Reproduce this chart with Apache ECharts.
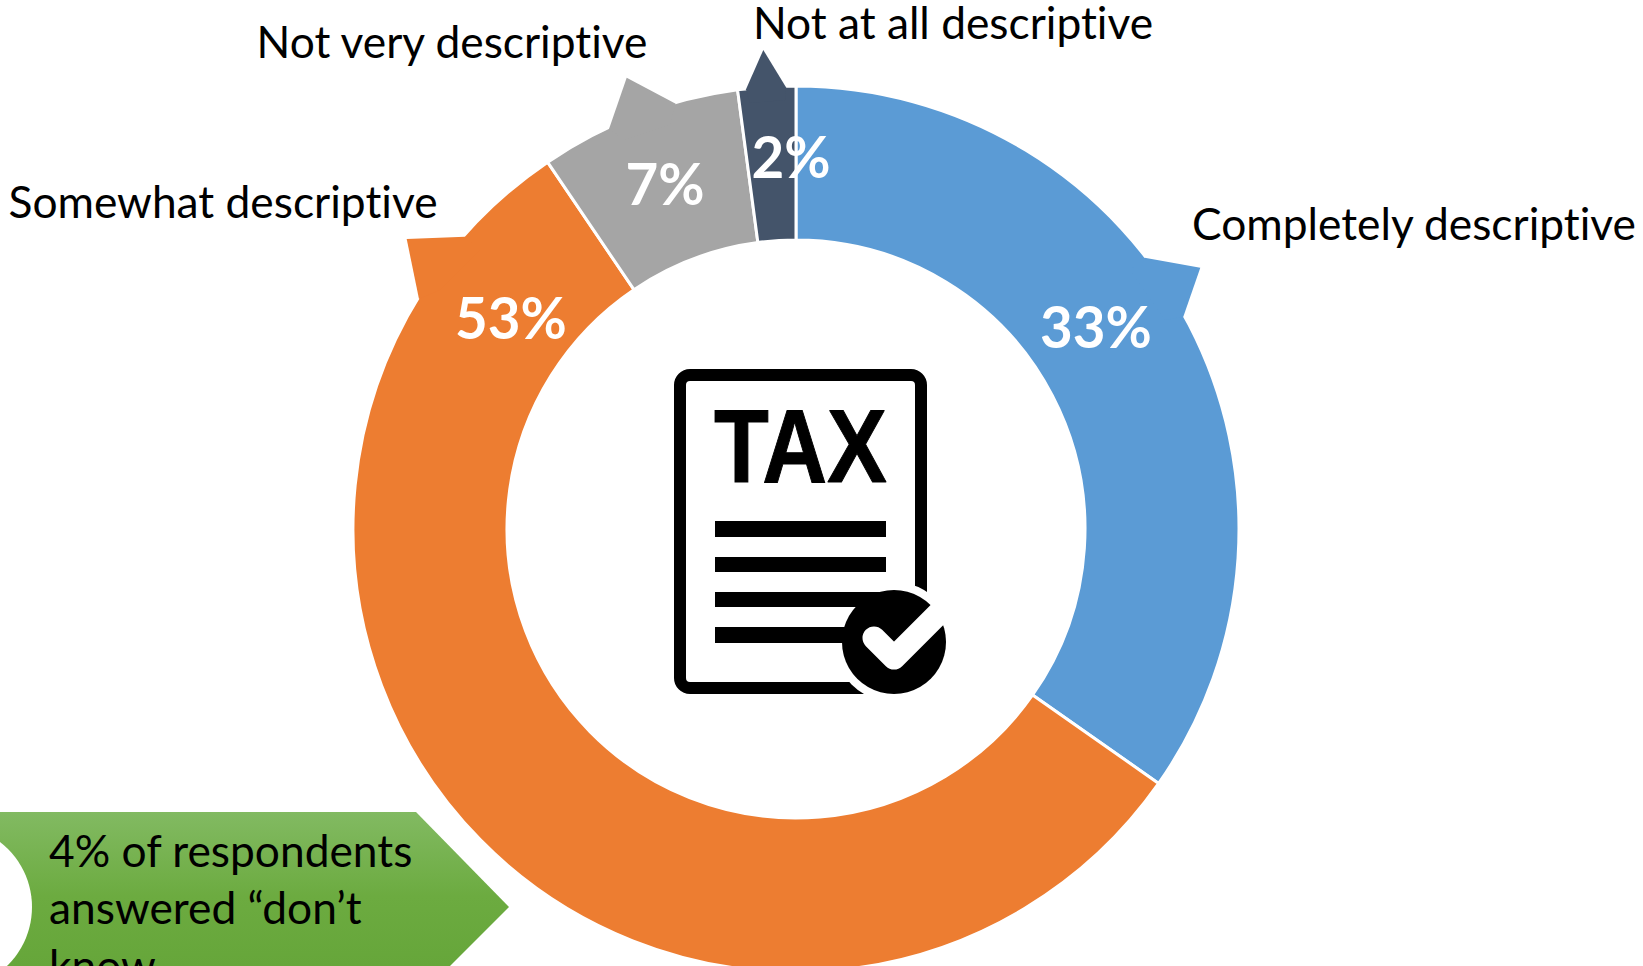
<!DOCTYPE html>
<html><head><meta charset="utf-8">
<style>html,body{margin:0;padding:0;background:#fff;overflow:hidden}#c{width:1643px;height:966px}
svg text{font-variant-ligatures:none !important}</style>
<script src="https://cdn.jsdelivr.net/npm/echarts@6/dist/echarts.min.js"></script>
</head><body><div id="c"></div>
<script>
const categories = ['Completely descriptive','Somewhat descriptive','Not very descriptive','Not at all descriptive'];
const values = [33,53,7,2];
const colors = ['#5B9BD5','#ED7D31','#A5A5A5','#44546A'];
const percentPos = [[1096,326],[511,317],[665,183],[791,156]];
const namePos = [[1414,222],[223,200],[452,40],[953,21]];
const nubs = [
  [[1144.7,257.7],[1200.3,267.7],[1183.3,316.7],[1165,320],[1130,270]],
  [[465,236.7],[406.7,239],[419,299],[440,290],[480,250]],
  [[609,129],[626.7,77.7],[675.7,103.7],[670,125],[625,140]],
  [[746,89.3],[763.3,50],[786,87.3],[785,100],[750,103]]
];
const noteLines = ['4% of respondents','answered “don’t','know'];
const FONT = 'Lato';
const chart = echarts.init(document.getElementById('c'),null,{renderer:'svg'});
const black = '#000';
const rect = (x,y,w,h,z) => ({type:'rect',z:z||1,shape:{x,y,width:w,height:h},style:{fill:black}});
chart.setOption({
  animation:false,
  backgroundColor:'#fff',
  graphic:{elements:[
    ...nubs.map((p,i)=>({type:'polygon',z:3,shape:{points:p},style:{fill:colors[i]}})),
    // don't-know note
    {type:'polygon',z:0,shape:{points:[[0,812],[416,812],[509,907],[450,966],[0,966]]},
      style:{fill:new echarts.graphic.LinearGradient(0,0,0,1,[{offset:0,color:'#82BA62'},{offset:.55,color:'#6CAB40'},{offset:1,color:'#66A63A'}])}},
    {type:'circle',z:1,shape:{cx:-50,cy:907,r:82},style:{fill:'#fff'}},
    ...noteLines.map((t,i)=>({type:'text',z:2,x:49,y:849+i*57.5,style:{text:t,fill:'#000',font:'44.3px '+FONT,textAlign:'left',textVerticalAlign:'middle'}})),
    // tax document icon
    {type:'rect',z:1,shape:{x:680,y:375,width:241,height:313,r:10},style:{fill:'#fff',stroke:black,lineWidth:12}},
    {type:'circle',z:1,shape:{cx:894,cy:642,r:60},style:{fill:'#fff'}},
    {type:'text',z:2,x:800.5,y:446,scaleX:.872,style:{text:'TAX',fill:black,stroke:black,lineWidth:1,font:'bold 103px "Liberation Sans"',textAlign:'center',textVerticalAlign:'middle'}},
    rect(715,521,171,16,2),rect(715,557,171,15,2),rect(715,592,171,15,2),rect(715,627,171,16,2),
    {type:'circle',z:3,shape:{cx:894,cy:642,r:52},style:{fill:black}},
    {type:'polyline',z:4,shape:{points:[[874,638],[894,658],[946,606]]},style:{stroke:'#fff',fill:null,lineWidth:23,lineCap:'round',lineJoin:'round'}}
  ]},
  series:[
    {type:'pie',center:[796,529],radius:[289,443],startAngle:90,clockwise:true,silent:true,avoidLabelOverlap:false,
     data:categories.map((n,i)=>({name:n,value:values[i],itemStyle:{color:colors[i],borderColor:'#fff',borderWidth:3}})),
     label:{show:true,position:'inside',formatter:'{c}%',color:'#fff',fontFamily:FONT,fontWeight:'bold',fontSize:56.5},
     labelLine:{show:false},
     labelLayout:p=>({x:percentPos[p.dataIndex][0],y:percentPos[p.dataIndex][1],align:'center',verticalAlign:'middle'}),
     emphasis:{disabled:true}},
    {type:'pie',center:[796,529],radius:[289,443],startAngle:90,clockwise:true,silent:true,avoidLabelOverlap:false,
     data:categories.map((n,i)=>({name:n,value:values[i],itemStyle:{color:'transparent',borderWidth:0}})),
     label:{show:true,position:'outside',formatter:'{b}',color:'#000',fontFamily:FONT,fontSize:44.3,lineHeight:38},
     labelLine:{show:false},
     labelLayout:p=>({x:namePos[p.dataIndex][0],y:namePos[p.dataIndex][1],align:'center',verticalAlign:'middle'}),
     emphasis:{disabled:true}}
  ]
});
</script></body></html>
